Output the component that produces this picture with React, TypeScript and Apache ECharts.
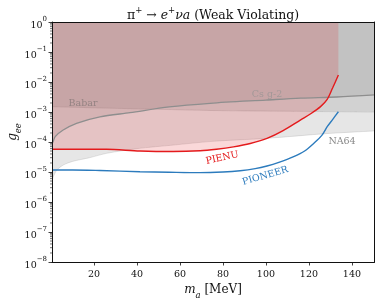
import React, { useEffect, useRef } from "react";
import * as echarts from "echarts";

// ---- axis ticks ----
const xTickValues = [20, 40, 60, 80, 100, 120, 140];
const yTickValues = [1e-8, 1e-7, 1e-6, 1e-5, 1e-4, 1e-3, 1e-2, 1e-1, 1];

// ---- NA64 exclusion boundary ----
const na64X = [0.5, 1, 2, 3, 6, 10, 18, 26, 40, 57, 75, 100, 128, 150.5];
const na64G = [4.2e-6, 6.6e-6, 9.5e-6, 1.22e-5, 1.75e-5, 2.25e-5, 3.0e-5, 4.2e-5, 6.0e-5, 7.9e-5, 1.05e-4, 1.32e-4, 1.9e-4, 2.34e-4];

// ---- Babar boundary ----
const babarX = [0.5, 20, 50, 75, 100, 150.5];
const babarG = [1.51e-3, 1.38e-3, 1.23e-3, 1.12e-3, 1.07e-3, 1.0e-3];

// ---- Cs g-2 boundary ----
const csX = [0.5, 1, 2, 5.7, 11.9, 22.8, 36.8, 55, 74, 100, 116, 133, 150.5];
const csG = [8.9e-5, 1.02e-4, 1.51e-4, 2.5e-4, 4.2e-4, 6.9e-4, 9.5e-4, 1.48e-3, 1.95e-3, 2.5e-3, 2.9e-3, 3.16e-3, 3.7e-3];

// ---- PIENU ----
const pienuX = [0.5, 10, 25.9, 41.4, 56.8, 69.4, 77, 84.9, 92.7, 100.5, 108, 116, 121, 125.4, 128.5, 131, 133.7];
const pienuG = [5.75e-5, 5.75e-5, 5.7e-5, 5.0e-5, 4.8e-5, 5.1e-5, 5.75e-5, 6.9e-5, 8.9e-5, 1.32e-4, 2.4e-4, 5.4e-4, 8.9e-4, 1.51e-3, 2.63e-3, 6.3e-3, 1.7e-2];

// ---- PIONEER ----
const pioneerX = [0.5, 10, 22.8, 41.4, 55, 69.4, 80, 88, 95, 100.5, 106, 112.9, 118, 122.3, 126, 128.5, 131, 133.7];
const pioneerG = [1.17e-5, 1.17e-5, 1.12e-5, 1.02e-5, 9.8e-6, 9.5e-6, 1.0e-5, 1.1e-5, 1.29e-5, 1.58e-5, 2.09e-5, 3.24e-5, 5.0e-5, 9.1e-5, 1.66e-4, 3.24e-4, 5.6e-4, 1.02e-3];

const FONT = '"DejaVu Serif", "Liberation Serif", serif';
const GRAY_FILL = "rgba(128,128,128,0.2)";

function pairs(xs: number[], ys: number[]) {
  return xs.map((x, i) => [x, ys[i]]);
}

const centered = { align: "center", verticalAlign: "middle", textAlign: "center", textVerticalAlign: "middle" };

export default function App() {
  const ref = useRef<HTMLDivElement>(null);
  useEffect(() => {
    if (!ref.current) return;
    const chart = echarts.init(ref.current, null, { renderer: "svg" });
    const minorTicks: number[][] = [];
    for (let e = -8; e < 0; e++) {
      for (let k = 2; k <= 9; k++) minorTicks.push([0.5, k * Math.pow(10, e)]);
    }
    const axisLine = { show: true, lineStyle: { color: "#111", width: 1 } };
    const option: any = {
      animation: false,
      textStyle: { fontFamily: FONT },
      grid: { left: 52, right: 6.5, top: 22, bottom: 42, containLabel: false },
      xAxis: [
        {
          type: "value",
          min: 0.5,
          max: 150.5,
          position: "bottom",
          z: 10,
          axisLine,
          axisTick: { show: true, length: 3.5, customValues: xTickValues, lineStyle: { color: "#111", width: 0.8 } },
          axisLabel: { customValues: xTickValues, margin: 6, color: "#111", fontSize: 9.5, fontFamily: FONT },
          splitLine: { show: false },
        },
        {
          type: "value",
          min: 0.5,
          max: 150.5,
          position: "top",
          z: 10,
          axisLine,
          axisTick: { show: false },
          axisLabel: { show: false },
          splitLine: { show: false },
        },
      ],
      yAxis: [
        {
          type: "log",
          logBase: 10,
          min: 1e-8,
          max: 1,
          position: "left",
          z: 10,
          axisLine,
          axisTick: { show: true, length: 3.5, customValues: yTickValues, lineStyle: { color: "#111", width: 0.8 } },
          axisLabel: {
            customValues: yTickValues,
            margin: 5,
            color: "#111",
            formatter: (v: number) => `{b|10}{s|${Math.round(Math.log10(v))}}`.replace("-", "−"),
            rich: {
              b: { fontSize: 9.5, fontFamily: FONT, lineHeight: 14, verticalAlign: "bottom", color: "#111" },
              s: { fontSize: 7, fontFamily: FONT, lineHeight: 8, verticalAlign: "top", color: "#111" },
            },
          },
          splitLine: { show: false },
        },
        {
          type: "log",
          logBase: 10,
          min: 1e-8,
          max: 1,
          position: "right",
          z: 10,
          axisLine,
          axisTick: { show: false },
          axisLabel: { show: false },
          splitLine: { show: false },
        },
      ],
      series: [
        {
          type: "line",
          name: "NA64",
          data: pairs(na64X, na64G),
          symbol: "none",
          smooth: 0.3,
          lineStyle: { color: "rgba(128,128,128,0.25)", width: 0.8 },
          areaStyle: { origin: "end", color: GRAY_FILL, opacity: 1 },
          z: 2,
        },
        {
          type: "line",
          name: "Babar",
          data: pairs(babarX, babarG),
          symbol: "none",
          smooth: 0.3,
          lineStyle: { color: "rgba(128,128,128,0.3)", width: 0.8 },
          areaStyle: { origin: "end", color: GRAY_FILL, opacity: 1 },
          z: 2,
        },
        {
          type: "line",
          name: "Cs g-2 region",
          data: pairs(csX, csG),
          symbol: "none",
          smooth: 0.3,
          lineStyle: { width: 0, opacity: 0 },
          areaStyle: { origin: "end", color: GRAY_FILL, opacity: 1 },
          z: 3,
        },
        {
          type: "line",
          name: "PIENU region",
          data: pairs(pienuX, pienuG),
          symbol: "none",
          smooth: 0.3,
          lineStyle: { width: 0, opacity: 0 },
          areaStyle: { origin: "end", color: "rgba(228,26,28,0.17)", opacity: 1 },
          z: 3,
        },
        {
          type: "line",
          name: "Cs g-2",
          data: pairs(csX, csG),
          symbol: "none",
          smooth: 0.3,
          lineStyle: { color: "#8e8e8e", width: 1.3 },
          z: 4,
        },
        {
          type: "line",
          name: "PIENU",
          data: pairs(pienuX, pienuG),
          symbol: "none",
          smooth: 0.3,
          lineStyle: { color: "#e41a1c", width: 1.4 },
          z: 5,
        },
        {
          type: "line",
          name: "PIONEER",
          data: pairs(pioneerX, pioneerG),
          symbol: "none",
          smooth: 0.3,
          lineStyle: { color: "#2c7bbd", width: 1.4 },
          z: 5,
        },
        {
          type: "custom",
          name: "minor ticks",
          silent: true,
          clip: false,
          data: minorTicks,
          renderItem: (params: any, api: any) => {
            const p = api.coord([api.value(0), api.value(1)]);
            return {
              type: "line",
              shape: { x1: p[0] - 2, y1: p[1], x2: p[0], y2: p[1] },
              style: { stroke: "#111", lineWidth: 0.6 },
            };
          },
          z: 10,
        },
      ],
      graphic: [
        {
          type: "text",
          x: 213,
          y: 13,
          z: 20,
          style: {
            text: "{r|π}{s|+}{r| → }{i|e}{s|+}{i|νa}{r| (Weak Violating)}",
            ...centered,
            fill: "#111",
            rich: {
              r: { fontSize: 12.5, fontFamily: FONT, lineHeight: 16, verticalAlign: "bottom", fill: "#111" },
              i: { fontSize: 12.5, fontFamily: FONT, fontStyle: "italic", lineHeight: 16, verticalAlign: "bottom", fill: "#111" },
              s: { fontSize: 8.5, fontFamily: FONT, lineHeight: 9, verticalAlign: "top", fill: "#111" },
            },
          },
        },
        {
          type: "text",
          x: 213,
          y: 291,
          z: 20,
          style: {
            text: "{i|m}{sub|a}{r| [MeV]}",
            ...centered,
            rich: {
              r: { fontSize: 12, fontFamily: FONT, lineHeight: 17, verticalAlign: "top", fill: "#111" },
              i: { fontSize: 12, fontFamily: FONT, fontStyle: "italic", lineHeight: 17, verticalAlign: "top", fill: "#111" },
              sub: { fontSize: 8.5, fontFamily: FONT, fontStyle: "italic", lineHeight: 9, verticalAlign: "bottom", fill: "#111" },
            },
          },
        },
        {
          type: "text",
          x: 14,
          y: 132,
          rotation: Math.PI / 2,
          z: 20,
          style: {
            text: "{i|g}{sub|ee}",
            ...centered,
            rich: {
              i: { fontSize: 12, fontFamily: FONT, fontStyle: "italic", lineHeight: 16, verticalAlign: "top", fill: "#111" },
              sub: { fontSize: 8.5, fontFamily: FONT, fontStyle: "italic", lineHeight: 9, verticalAlign: "bottom", fill: "#111" },
            },
          },
        },
        {
          type: "text",
          x: 83,
          y: 102,
          z: 20,
          style: { text: "Babar", font: `9.5px ${FONT}`, fill: "#958383", ...centered },
        },
        {
          type: "text",
          x: 267,
          y: 93,
          z: 20,
          style: { text: "Cs g-2", font: `9.5px ${FONT}`, fill: "#a39898", ...centered },
        },
        {
          type: "text",
          x: 342,
          y: 140,
          z: 20,
          style: { text: "NA64", font: `9.5px ${FONT}`, fill: "#8a8a8a", ...centered },
        },
        {
          type: "text",
          x: 222,
          y: 157,
          rotation: (12 * Math.PI) / 180,
          z: 20,
          style: { text: "PIENU", font: `9.5px ${FONT}`, fill: "#e41a1c", ...centered },
        },
        {
          type: "text",
          x: 265,
          y: 175,
          rotation: (16 * Math.PI) / 180,
          z: 20,
          style: { text: "PIONEER", font: `9.5px ${FONT}`, fill: "#2c7bbd", ...centered },
        },
      ],
    };
    chart.setOption(option);
    return () => chart.dispose();
  }, []);
  return <div ref={ref} style={{ position: "fixed", left: 0, top: 0, width: 381, height: 304 }} />;
}
